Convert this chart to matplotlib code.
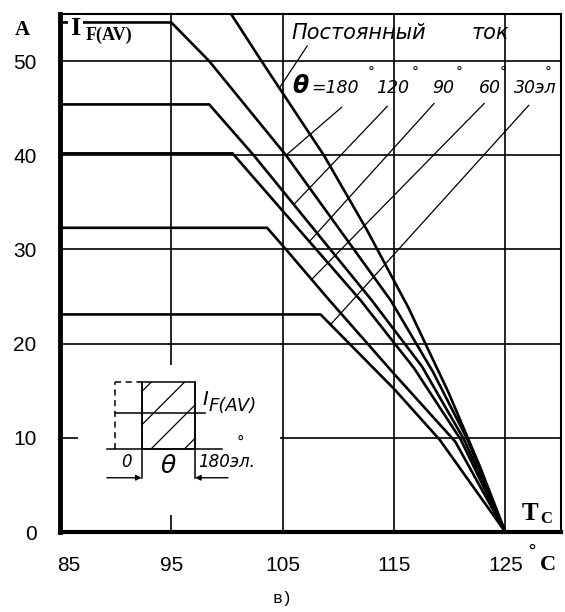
import numpy as np
import matplotlib.pyplot as plt
from matplotlib.patches import Rectangle
from matplotlib.transforms import ScaledTranslation

plt.rcParams['hatch.linewidth'] = 0.9

# case temperature grid and current grid
tc_ticks = [85, 95, 105, 115, 125]
i_ticks = [0, 10, 20, 30, 40, 50]

# derating curves I_F(AV) = f(T_C)
dc_t = [99.0, 103.1, 108.7, 112.6, 116.3, 119.9, 122.7, 125.0]
dc_i = [57.5, 50.0, 40.0, 32.0, 23.8, 14.8, 7.0, 0.0]

t180 = [85.0, 95.0, 98.4, 105.3, 114.7, 118.5, 121.6, 125.0]
i180 = [54.1, 54.1, 50.0, 40.0, 24.6, 17.0, 9.8, 0.0]

t120 = [85.0, 98.4, 102.4, 113.0, 117.5, 121.3, 125.0]
i120 = [45.4, 45.4, 40.0, 24.6, 17.6, 9.8, 0.0]

t90 = [85.0, 100.5, 112.0, 116.8, 121.0, 125.0]
i90 = [40.2, 40.2, 24.6, 17.4, 9.8, 0.0]

t60 = [85.0, 103.6, 105.3, 109.2, 115.0, 120.5, 125.0]
i60 = [32.3, 32.3, 30.0, 24.6, 16.8, 9.6, 0.0]

t30 = [85.0, 108.4, 115.0, 119.1, 125.0]
i30 = [23.1, 23.1, 15.2, 9.8, 0.0]

fig = plt.figure(figsize=(5.65, 6.12), dpi=100)
ax = fig.add_axes([60/565, 1-532/612, 501/565, 518/612])

ax.set_xlim(85, 130.0)
ax.set_ylim(0, 55.0)
ax.set_xticks(tc_ticks)
ax.set_yticks(i_ticks)
ax.grid(True, color='black', lw=1.2)
ax.set_axisbelow(True)
ax.tick_params(length=0, labelsize=15, pad=17)
for lab in ax.get_xticklabels() + ax.get_yticklabels():
    lab.set_family('Liberation Sans')
# first temperature label sits a little clear of the thick axis
first = ax.xaxis.get_major_ticks()[0].label1
first.set_transform(first.get_transform()
                    + ScaledTranslation(0.09, 0, fig.dpi_scale_trans))
ax.spines['left'].set_linewidth(3.5)
ax.spines['bottom'].set_linewidth(3.0)
ax.spines['top'].set_linewidth(1.5)
ax.spines['right'].set_linewidth(1.5)

curves = [(dc_t, dc_i), (t180, i180), (t120, i120),
          (t90, i90), (t60, i60), (t30, i30)]
for t, i in curves:
    ax.plot(t, i, color='black', lw=1.9, solid_joinstyle='round')

# leader lines from the captions to the curves
leaders = [(107.2, 51.6, 104.7, dc_t, dc_i),
           (110.3, 45.1, 105.3, t180, i180),
           (114.4, 45.2, 106.0, t120, i120),
           (118.6, 45.5, 107.4, t90, i90),
           (123.1, 45.5, 107.6, t60, i60),
           (127.1, 45.3, 109.3, t30, i30)]
for t0, i0, t1, t, i in leaders:
    ax.plot([t0, t1], [i0, np.interp(t1, t, i)], color='black', lw=0.9)

ital = dict(family='DejaVu Sans', style='italic', color='black')
ax.text(105.8, 52.3, 'Постоянный', size=15, va='baseline', **ital)
ax.text(122.0, 52.3, 'ток', size=15, va='baseline', **ital)

ax.text(105.9, 46.6, 'θ', size=17, weight='bold', va='baseline', **ital)
for t, s in [(107.6, '=180'), (113.4, '120'), (118.4, '90'),
             (122.6, '60'), (125.8, '30эл')]:
    ax.text(t, 46.6, s, size=12.5, va='baseline', **ital)
for t in [112.6, 116.6, 120.5, 124.5, 128.5]:
    ax.text(t, 48.3, '°', size=10, va='baseline', **ital)

serif = dict(family='Liberation Serif', weight='bold', color='black')
ax.text(86.4, 53.5, 'I', size=19, va='center', ha='center',
        bbox=dict(fc='white', ec='none', pad=1.5), **serif)
ax.text(87.3, 52.7, 'F(AV)', size=13, va='center', ha='left', **serif)
ax.text(127.2, 2.0, 'T', size=18, va='center', ha='center', **serif)
ax.text(128.1, 1.4, 'C', size=12, va='center', ha='left', **serif)

fig.text(22/565, 1-30/612, 'A', size=15, ha='center', va='center', **serif)
fig.text(548/565, 1-565/612, 'C', size=16, ha='center', va='center', **serif)
fig.text(532/565, 1-552/612, '°', size=13, ha='center', va='center',
         family='DejaVu Sans')
fig.text(283/565, 1-598/612, 'в)', size=12, ha='center', va='center',
         family='Liberation Mono')

# conduction angle sketch
ins = fig.add_axes([78/565, 1-515/612, 202/565, 150/612])
ins.set_facecolor('white')
ins.set_xticks([])
ins.set_yticks([])
for s in ins.spines.values():
    s.set_visible(False)
ins.set_xlim(-83, 371)
ins.set_ylim(-0.985, 1.25)
k = dict(color='black', lw=1.1)
ins.plot([0, 0], [0, 1], ls=(0, (4, 3)), **k)
ins.plot([0, 60], [1, 1], ls=(0, (4, 3)), **k)
ins.add_patch(Rectangle((60, 0), 120, 1, fill=False, hatch='/',
                        ec='black', lw=1.1))
ins.plot([60, 60], [-0.43, 1], **k)
ins.plot([180, 180], [-0.43, 1], **k)
ins.plot([0, 202], [0.54, 0.54], **k)
ins.plot([-18, 241], [0, 0], **k)
ins.annotate('', xy=(60, -0.43), xytext=(-18, -0.43),
             arrowprops=dict(arrowstyle='-|>', color='black', lw=1,
                             mutation_scale=8, shrinkA=0, shrinkB=0))
ins.annotate('', xy=(180, -0.43), xytext=(254, -0.43),
             arrowprops=dict(arrowstyle='-|>', color='black', lw=1,
                             mutation_scale=8, shrinkA=0, shrinkB=0))
ins.text(27, -0.2, '0', size=12, ha='center', va='center', **ital)
ins.text(119, -0.25, 'θ', size=18, ha='center', va='center', **ital)
ins.text(187, -0.2, '180эл.', size=12, ha='left', va='center', **ital)
ins.text(283, 0.1, '°', size=11, ha='center', va='center', **ital)
ins.text(204, 0.74, 'I', size=14, ha='center', va='center', **ital)
ins.text(211, 0.64, 'F(AV)', size=13, ha='left', va='center', **ital)

fig.savefig('out.png', dpi=100)
